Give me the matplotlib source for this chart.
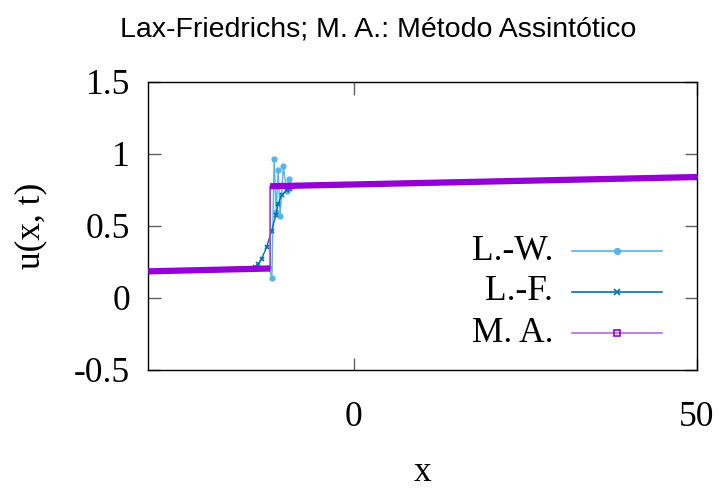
import matplotlib
matplotlib.use("Agg")
import matplotlib.pyplot as plt
from matplotlib.lines import Line2D

# L.-W. (Lax-Wendroff)
lw_x = [-30, -12.3, -11.95, -11.62, -11.32, -11.03, -10.74, -10.28, -9.81, -9.5, -9.0, 50]
lw_y = [0.185, 0.205, 0.14, 0.963, 0.60, 0.888, 0.569, 0.916, 0.74, 0.823, 0.775, 0.84]

# L.-F. (Lax-Friedrichs)
lf_x = [-30, -14.4, -13.95, -13.46, -12.73, -12.0, -11.37, -11.03, -10.54, -9.81, -9.33, -8.8, 50]
lf_y = [0.185, 0.215, 0.236, 0.27, 0.352, 0.464, 0.573, 0.655, 0.713, 0.748, 0.760, 0.775, 0.84]

# M. A. (Método Assintótico)
ma_x = [-30, -12.2, -12.2, 50]
ma_y = [0.185, 0.205, 0.776, 0.84]

labels = ["L.-W.", "L.-F.", "M. A."]
colors = ["#56b4e9", "#0072b2", "#9400d3"]

serif = ["Liberation Serif", "DejaVu Serif"]
sans = ["Liberation Sans", "DejaVu Sans"]
FS = 25.5

fig = plt.figure(figsize=(7.22, 4.91), dpi=100)
ax = fig.add_axes([148/722, 1-370/491, (697-148)/722, (370-82)/491])

ax.plot(lw_x, lw_y, color=colors[0], lw=1.0, marker="o", ms=3.5, zorder=2)
ax.plot(lf_x, lf_y, color=colors[1], lw=1.0, marker="x", ms=3.5, mew=1.2, zorder=3)
# thin connecting line (vertical jump) + dense-marker band on flat parts
ax.plot(ma_x, ma_y, color="#a640dd", lw=1.3, zorder=4)
ax.plot(ma_x[:2], ma_y[:2], color=colors[2], lw=4.5, solid_capstyle="butt", zorder=4)
ax.plot(ma_x[2:], ma_y[2:], color=colors[2], lw=4.5, solid_capstyle="butt", zorder=4)

ax.set_xlim(-30, 50)
ax.set_ylim(-0.5, 1.5)
ax.set_xticks([0, 50])
ax.set_yticks([-0.5, 0, 0.5, 1, 1.5])
ax.set_yticklabels(["-0.5", "0", "0.5", "1", "1.5"])
ax.tick_params(direction="in", length=9, width=1, color="#606060",
               top=True, right=True, labelsize=FS)
ax.tick_params(axis="x", pad=22)
ax.tick_params(axis="y", pad=13)
for lab in ax.get_xticklabels() + ax.get_yticklabels():
    lab.set_family(serif)
for s in ax.spines.values():
    s.set_linewidth(1.0)

ax.set_xlabel("x", fontsize=FS, family=serif, labelpad=16)
ax.set_ylabel("u(x, t)", fontsize=FS, family=serif, labelpad=19)

fig.text(378/722, 1-29/491, "Lax-Friedrichs; M. A.: Método Assintótico",
         ha="center", va="center", fontsize=20.5, family=sans)

# legend (manual, right-aligned labels like gnuplot)
markers = ["o", "x", "s"]
rows_y = [251, 292, 333]
for lab, c, m, ypx in zip(labels, colors, markers, rows_y):
    ya = (370 - ypx) / (370 - 82)
    x0 = (572 - 148) / (697 - 148)
    x1 = (662 - 148) / (697 - 148)
    xm = (617 - 148) / (697 - 148)
    lc = "#b36be3" if c == "#9400d3" else c
    ax.add_line(Line2D([x0, x1], [ya, ya], transform=ax.transAxes, color=lc, lw=1.2, zorder=5))
    ax.add_line(Line2D([xm], [ya], transform=ax.transAxes, color=c, marker=m,
                       ms=4, mew=1.2, mfc=("none" if m == "s" else c), lw=0, zorder=5))
    ax.text((553 - 148) / (697 - 148), ya, lab, transform=ax.transAxes, ha="right",
            va="center", fontsize=FS, family=serif)

fig.savefig("out.png", dpi=100)
